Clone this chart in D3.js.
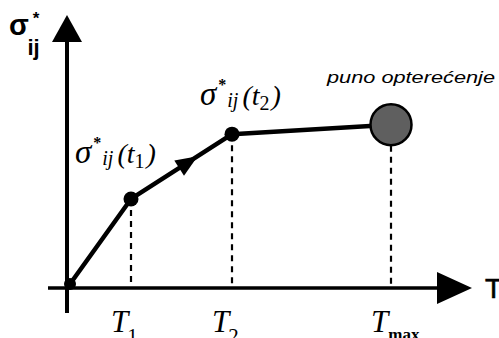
<!DOCTYPE html>
<html>
<head>
<meta charset="utf-8">
<script src="https://cdn.jsdelivr.net/npm/d3@7"></script>
<style>
  body { margin: 0; background: #fff; }
  svg { display: block; }
  .serif { font-family: "Liberation Serif", "Times New Roman", serif; font-style: italic; }
  .sans  { font-family: "Liberation Sans", Arial, sans-serif; }
</style>
</head>
<body>
<svg id="chart" width="499" height="338"></svg>
<script>
// load path: time values and stress values at the marked instants
var tValues     = [0, 15.25, 40.5, 80.25];
var sigmaValues = [0, 31.5, 55.5, 59];
var tickSubs    = ["1", "2", "max"];   // T1, T2, Tmax
var pointSubs   = ["1", "2"];          // sigma*ij(t1), sigma*ij(t2)
var endLabel    = "puno opterećenje";

var W = 499, H = 338;
var svg = d3.select("#chart");

var x = d3.scaleLinear().domain([0, 100]).range([70, 470]);
var y = d3.scaleLinear().domain([0, 100]).range([284, 14]);

var pts = tValues.map(function(t, i) { return { t: t, s: sigmaValues[i] }; });

// axes
var axisY  = y(0) + 4;
var axisX  = x(0) - 3;

svg.append("line")
    .attr("x1", x(0) - 22).attr("y1", axisY)
    .attr("x2", x(100) - 30).attr("y2", axisY)
    .attr("stroke", "#000").attr("stroke-width", 3.5);
svg.append("path")
    .attr("d", "M" + (x(100) + 2) + "," + axisY +
               "L" + (x(100) - 33) + "," + (axisY - 16) +
               "L" + (x(100) - 33) + "," + (axisY + 16) + "Z")
    .attr("fill", "#000");

svg.append("line")
    .attr("x1", axisX).attr("y1", y(0) + 29)
    .attr("x2", axisX).attr("y2", y(100) + 26)
    .attr("stroke", "#000").attr("stroke-width", 4);
svg.append("path")
    .attr("d", "M" + axisX + "," + (y(100) + 1) +
               "L" + (axisX - 15) + "," + (y(100) + 28) +
               "L" + (axisX + 15) + "," + (y(100) + 28) + "Z")
    .attr("fill", "#000");

// axis titles
var yt = svg.append("text").attr("class", "sans").attr("font-weight", "bold")
    .attr("x", 9).attr("y", 35);
yt.append("tspan").attr("font-size", 29).text("σ");
yt.append("tspan").attr("font-size", 17).attr("dx", 4).attr("dy", -11).text("*");
yt.append("tspan").attr("font-size", 22).attr("dx", -12).attr("dy", 31).text("ij");

svg.append("text").attr("class", "sans")
    .attr("x", x(100) + 15).attr("y", axisY + 10)
    .attr("font-size", 28)
    .attr("stroke", "#000").attr("stroke-width", 0.6)
    .text("T");

// dashed guides
svg.selectAll(".guide")
    .data(pts.slice(1))
  .enter().append("line")
    .attr("class", "guide")
    .attr("x1", function(d) { return x(d.t); })
    .attr("x2", function(d) { return x(d.t); })
    .attr("y1", function(d, i) { return y(d.s) + (i == 2 ? 21 : 0); })
    .attr("y2", axisY)
    .attr("stroke", "#000").attr("stroke-width", 2.2)
    .attr("stroke-dasharray", "6,5");

// tick labels T1, T2, Tmax
var ticks = svg.selectAll(".tick")
    .data(pts.slice(1))
  .enter().append("text")
    .attr("class", "tick serif")
    .attr("x", function(d) { return x(d.t) - 20; })
    .attr("y", 332);
ticks.append("tspan").attr("font-size", 31).text("T");
ticks.append("tspan")
    .attr("font-size", function(d, i) { return i == 2 ? 17 : 21; })
    .attr("font-style", "normal")
    .attr("font-weight", function(d, i) { return i == 2 ? "bold" : "normal"; })
    .attr("dx", function(d, i) { return i == 2 ? 0 : -1; })
    .attr("dy", function(d, i) { return i == 2 ? 8 : 11; })
    .text(function(d, i) { return tickSubs[i]; });

// load path
var line = d3.line()
    .x(function(d) { return x(d.t); })
    .y(function(d) { return y(d.s); });

svg.append("path")
    .datum(pts)
    .attr("d", line)
    .attr("fill", "none")
    .attr("stroke", "#000").attr("stroke-width", 4.5)
    .attr("stroke-linejoin", "round");

// direction arrow on the first loading step
var p1 = pts[1], p2 = pts[2];
var ax = x(p1.t) + 0.66 * (x(p2.t) - x(p1.t));
var ay = y(p1.s) + 0.66 * (y(p2.s) - y(p1.s));
var ang = Math.atan2(y(p2.s) - y(p1.s), x(p2.t) - x(p1.t)) * 180 / Math.PI;
svg.append("path")
    .attr("d", "M0,0L-22,-9L-22,9Z")
    .attr("transform", "translate(" + ax + "," + ay + ") rotate(" + ang + ")")
    .attr("fill", "#000");

// points
svg.selectAll(".pt")
    .data(pts)
  .enter().append("circle")
    .attr("class", "pt")
    .attr("cx", function(d) { return x(d.t); })
    .attr("cy", function(d) { return y(d.s); })
    .attr("r", function(d, i) { return i == 3 ? 20.5 : (i == 0 ? 6 : 7.5); })
    .attr("fill", function(d, i) { return i == 3 ? "#5f5f5f" : "#000"; })
    .attr("stroke", "#000")
    .attr("stroke-width", function(d, i) { return i == 3 ? 2.5 : 0; });

// point labels sigma*ij(t)
var lbl = svg.selectAll(".plabel")
    .data(pts.slice(1, 3))
  .enter().append("text")
    .attr("class", "plabel serif")
    .attr("x", function(d, i) { return x(d.t) - (i == 0 ? 56 : 32); })
    .attr("y", function(d, i) { return y(d.s) - (i == 0 ? 36 : 29); });
lbl.append("tspan").attr("font-size", 33).text("σ");
lbl.append("tspan").attr("font-size", 16).attr("font-weight", "bold")
    .attr("font-style", "normal").attr("dx", 2).attr("dy", -15).text("*");
lbl.append("tspan").attr("font-size", 20).attr("dx", 1).attr("dy", 17).text("ij");
lbl.append("tspan").attr("font-size", 28).attr("dx", 4).attr("dy", -2).text("(t");
lbl.append("tspan").attr("font-size", 20).attr("font-style", "normal")
    .attr("dx", 0).attr("dy", 5)
    .text(function(d, i) { return pointSubs[i]; });
lbl.append("tspan").attr("font-size", 28).attr("dx", 2).attr("dy", -5).text(")");

// end label
svg.append("text")
    .attr("class", "sans")
    .attr("x", 327).attr("y", 83)
    .attr("font-size", 17)
    .attr("font-style", "italic")
    .attr("textLength", 168)
    .attr("lengthAdjust", "spacingAndGlyphs")
    .text(endLabel);
</script>
</body>
</html>
